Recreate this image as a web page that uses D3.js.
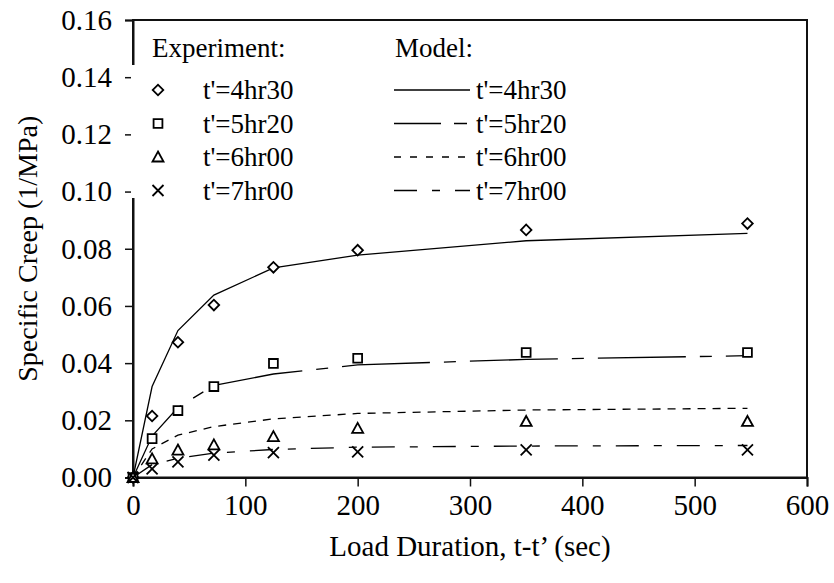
<!DOCTYPE html>
<html>
<head>
<meta charset="utf-8">
<script src="https://cdn.jsdelivr.net/npm/d3@7"></script>
</head>
<body style="margin:0">
<svg width="834" height="583"></svg>
<script>
// load duration t-t' (sec)
var loadTime = [0, 17, 40, 72, 125, 200, 350, 547];

// experiment, specific creep (1/MPa)
var exp430 = [0, 0.0215, 0.0473, 0.0603, 0.0735, 0.0795, 0.0866, 0.0888];
var exp520 = [0, 0.0136, 0.0234, 0.0318, 0.0399, 0.0417, 0.0437, 0.0437];
var exp600 = [0, 0.0065, 0.0096, 0.0114, 0.0143, 0.0172, 0.0196, 0.0196];
var exp700 = [0, 0.0030, 0.0055, 0.0078, 0.0087, 0.0090, 0.0097, 0.0097];

// model
var mod430 = [0, 0.0318, 0.0514, 0.0638, 0.0733, 0.0778, 0.0828, 0.0854];
var mod520 = [0, 0.0145, 0.0245, 0.0322, 0.0362, 0.0394, 0.0413, 0.0426];
var mod600 = [0, 0.0100, 0.0148, 0.0178, 0.0205, 0.0224, 0.0236, 0.0242];
var mod700 = [0, 0.0045, 0.0067, 0.0085, 0.0098, 0.0106, 0.0110, 0.0112];

var seriesNames = ["t'=4hr30", "t'=5hr20", "t'=6hr00", "t'=7hr00"];
var xTicks = [0, 100, 200, 300, 400, 500, 600];
var yTicks = [0, 0.02, 0.04, 0.06, 0.08, 0.10, 0.12, 0.14, 0.16];

var marginLeft = 133, marginTop = 20, width = 674, height = 457.5;

var xs = d3.scaleLinear().domain([0, 600]).range([0, width]);
var ys = d3.scaleLinear().domain([0, 0.16]).range([height, 0]);

var expData = [exp430, exp520, exp600, exp700];
var modData = [mod430, mod520, mod600, mod700];
var dashes = [null, "88,14,12,14", "8,7", "23,15,8,15"];
var legendDashes = [null, "47,13,13,13", "7,9", "23,15,8,15"];

var markers = [
  { path: d3.symbol(d3.symbolSquare, 56)(), rot: 45 },
  { path: d3.symbol(d3.symbolSquare, 78)(), rot: 0 },
  { path: "M0,-5.5L5.5,4.5L-5.5,4.5Z", rot: 0 },
  { path: "M-5.5,-5.5L5.5,5.5M-5.5,5.5L5.5,-5.5", rot: 0 }
];

var svg = d3.select("svg");
var g = svg.append("g").attr("transform", "translate(" + marginLeft + "," + marginTop + ")");

// frame
g.append("rect")
  .attr("width", width).attr("height", height)
  .attr("fill", "none").attr("stroke", "#111").attr("stroke-width", 2);

// axes
var yAxis = g.append("g")
  .call(d3.axisLeft(ys).tickValues(yTicks).tickFormat(d3.format(".2f")).tickSize(8).tickPadding(13));
var xAxis = g.append("g")
  .attr("transform", "translate(0," + height + ")")
  .call(d3.axisBottom(xs).tickValues(xTicks).tickFormat(d3.format("d")).tickSize(9).tickPadding(8));
[yAxis, xAxis].forEach(function(a) {
  a.attr("font-family", null).attr("font-size", null);
  a.select(".domain").attr("stroke", "#111").attr("stroke-width", 2);
  a.selectAll(".tick line").attr("stroke", "#111").attr("stroke-width", 1.5);
  a.selectAll("text").attr("fill", "#000")
    .style("font-family", "Liberation Serif").style("font-size", "29px");
});

// legend box covers the axis line
g.append("rect")
  .attr("x", -2).attr("y", 45).attr("width", 470).attr("height", 133)
  .attr("fill", "#fff");

// model lines
var line = d3.line()
  .x(function(d, i) { return xs(loadTime[i]); })
  .y(function(d) { return ys(d); });

modData.forEach(function(s, k) {
  g.append("path")
    .attr("d", line(s))
    .attr("fill", "none")
    .attr("stroke", "#000")
    .attr("stroke-width", 1.3)
    .attr("stroke-dasharray", dashes[k]);
});

// experiment markers
expData.forEach(function(s, k) {
  g.selectAll(".m" + k)
    .data(s)
    .enter()
    .append("path")
    .attr("d", markers[k].path)
    .attr("transform", function(d, i) {
      return "translate(" + xs(loadTime[i]) + "," + ys(d) + ") rotate(" + markers[k].rot + ")";
    })
    .attr("fill", k == 3 ? "none" : "#fff")
    .attr("stroke", "#000")
    .attr("stroke-width", 1.8);
});

// axis titles
svg.append("text")
  .attr("x", marginLeft + width / 2).attr("y", 556)
  .attr("text-anchor", "middle")
  .style("font-family", "Liberation Serif").style("font-size", "29px")
  .text("Load Duration, t-t\u2019 (sec)");

svg.append("text")
  .attr("transform", "translate(37," + (marginTop + height / 2) + ") rotate(-90)")
  .attr("text-anchor", "middle")
  .style("font-family", "Liberation Serif").style("font-size", "28px")
  .text("Specific Creep (1/MPa)");

// legend
var lg = svg.append("g");
function legendText(x, y, s) {
  lg.append("text").attr("x", x).attr("y", y)
    .style("font-family", "Liberation Serif").style("font-size", "27px")
    .text(s);
}
legendText(152, 57, "Experiment:");
legendText(395, 57, "Model:");

seriesNames.forEach(function(name, k) {
  var yy = 90 + k * 33.5;
  lg.append("path")
    .attr("d", markers[k].path)
    .attr("transform", "translate(158," + yy + ") rotate(" + markers[k].rot + ")")
    .attr("fill", k == 3 ? "none" : "#fff")
    .attr("stroke", "#000")
    .attr("stroke-width", 1.8);
  legendText(203, yy + 9, name);
  lg.append("line")
    .attr("x1", 394).attr("x2", 470).attr("y1", yy).attr("y2", yy)
    .attr("stroke", "#000").attr("stroke-width", 1.3)
    .attr("stroke-dasharray", legendDashes[k]);
  legendText(476, yy + 9, name);
});
</script>
</body>
</html>
